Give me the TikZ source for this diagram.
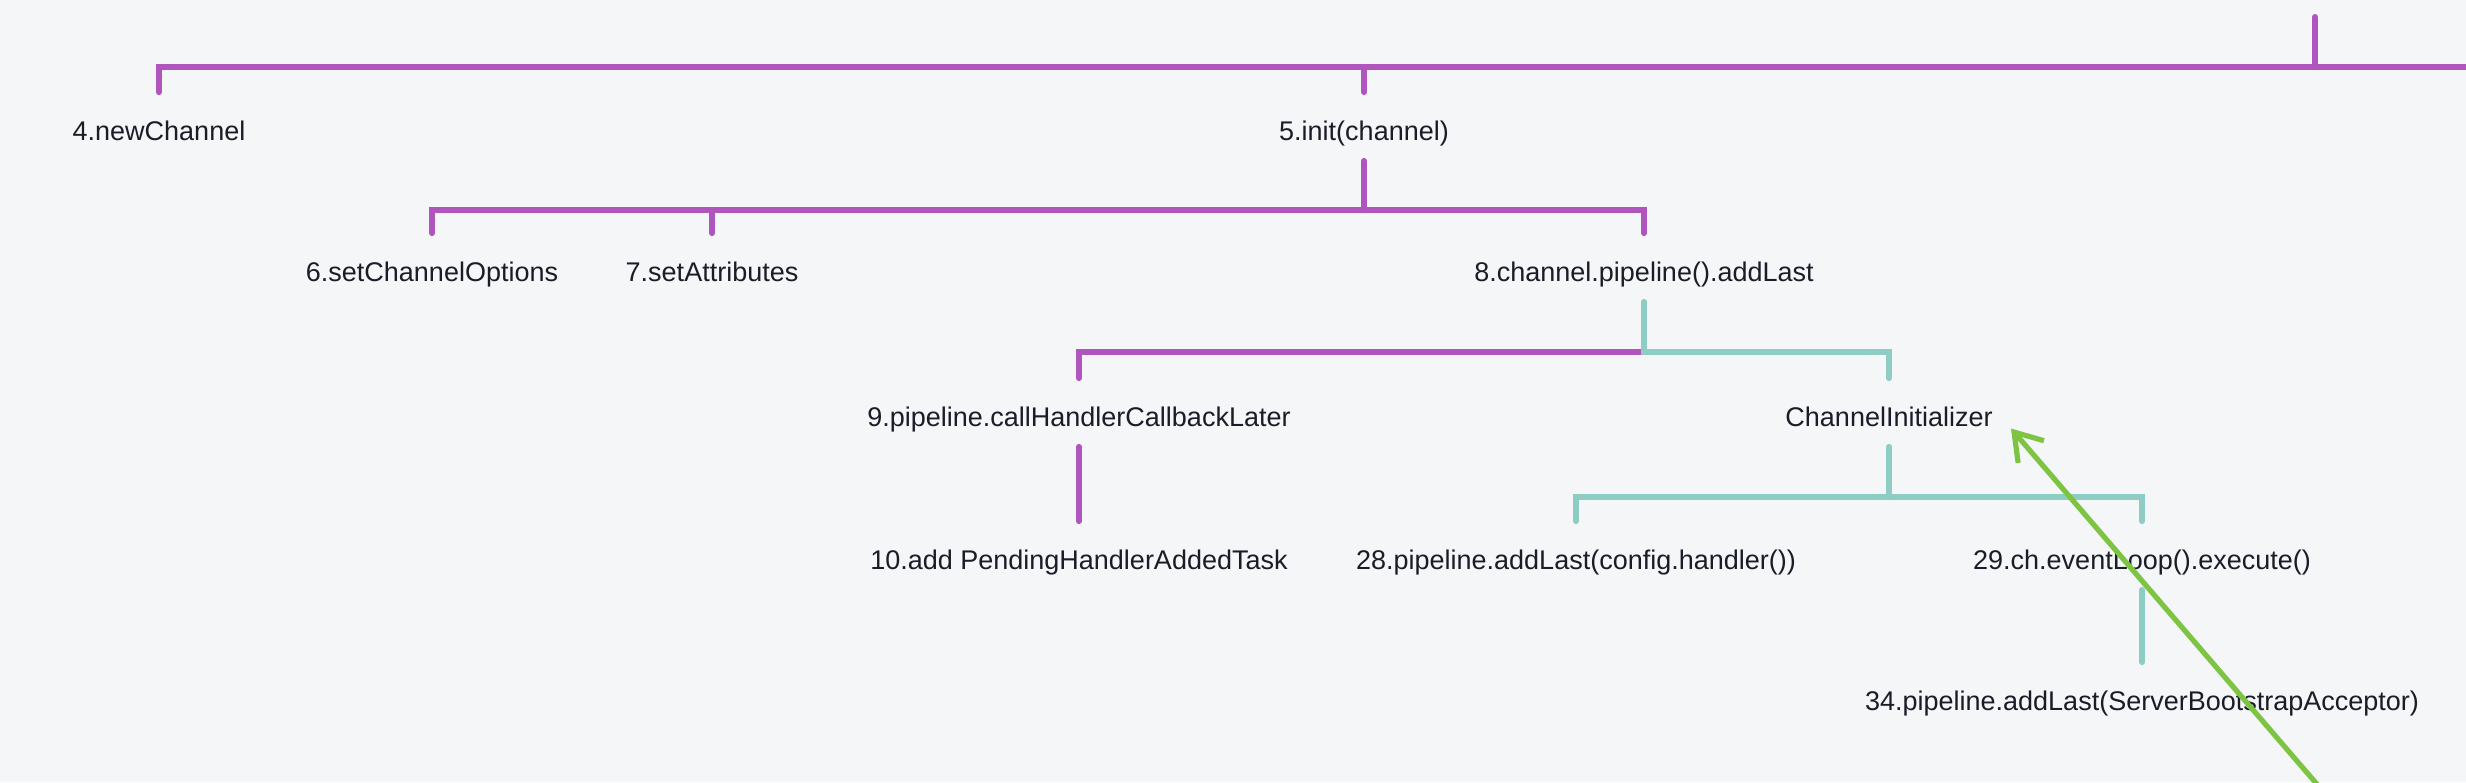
\documentclass[tikz,border=0pt]{standalone}
\usepackage{fontspec}
\setmainfont{Liberation Sans}
\usetikzlibrary{arrows.meta}

\definecolor{fond}{RGB}{245,246,248}
\definecolor{violet}{RGB}{176,84,190}
\definecolor{menthe}{RGB}{142,205,195}
\definecolor{vert}{RGB}{125,196,67}
\definecolor{encre}{RGB}{28,28,40}

\begin{document}
\begin{tikzpicture}[x=0.5pt,y=-0.5pt,
    appel/.style={anchor=base,inner sep=0pt,text height=24pt,text depth=10pt,
      text=encre,font=\fontsize{13.5pt}{16pt}\selectfont},
    lienv/.style={draw=violet,line width=3pt,line cap=round,line join=miter},
    lienm/.style={draw=menthe,line width=3pt,line cap=round,line join=miter},
    retour/.style={draw=vert,line width=2.6pt,-{Straight Barb[length=13pt,width=17pt]}}]

   %fond
   \fill[fond] (0,0) rectangle (2466,782);
   \useasboundingbox (0,0) rectangle (2466,782);
   \clip (0,0) rectangle (2466,782);

   %barres
   \coordinate (b1) at (0,67);
   \coordinate (b2) at (0,210);
   \coordinate (b3) at (0,352);
   \coordinate (b4) at (0,497);
   \coordinate (haut) at (2315,17);
   \coordinate (droite) at (2520,67);
   \coordinate (src) at (2346,818);

   %appels
   \node[appel] (n4) at (159,140.5) {4.newChannel};
   \node[appel] (n5) at (1364,140.5) {5.init(channel)};
   \node[appel] (n6) at (432,281.5) {6.setChannelOptions};
   \node[appel] (n7) at (712,281.5) {7.setAttributes};
   \node[appel] (n8) at (1644,281.5) {8.channel.pipeline().addLast};
   \node[appel] (n9) at (1079,426.5) {9.pipeline.callHandlerCallbackLater};
   \node[appel] (nci) at (1889,426.5) {ChannelInitializer};
   \node[appel] (n10) at (1079,569.5) {10.add PendingHandlerAddedTask};
   \node[appel] (n28) at (1576,569.5) {28.pipeline.addLast(config.handler())};
   \node[appel] (n29) at (2142,569.5) {29.ch.eventLoop().execute()};
   \node[appel] (n34) at (2142,710.5) {34.pipeline.addLast(ServerBootstrapAcceptor)};

   %niveau 1
   \draw[lienv] (n4.north) |- (droite);
   \draw[lienv] (haut) -- (haut |- b1);
   \draw[lienv] (n5.north) -- (n5.north |- b1);

   %niveau 2
   \draw[lienv] (n5.south) -- (n5.south |- b2);
   \draw[lienv] (n6.north) |- (n8.north |- b2) -- (n8.north);
   \draw[lienv] (n7.north) -- (n7.north |- b2);

   %niveau 3
   \draw[lienv] (n9.north) |- (n8.south |- b3);
   \draw[lienm] (n8.south) |- (nci.north |- b3) -- (nci.north);
   \draw[lienv] (n9.south) -- (n10.north);

   %initializer
   \draw[lienm] (nci.south) -- (nci.south |- b4);
   \draw[lienm] (n28.north) |- (n29.north |- b4) -- (n29.north);
   \draw[lienm] (n29.south) -- (n34.north);

   %fleche
   \draw[retour] (src) -- ([xshift=9pt,yshift=-8pt]nci.east);
\end{tikzpicture}
\end{document}
